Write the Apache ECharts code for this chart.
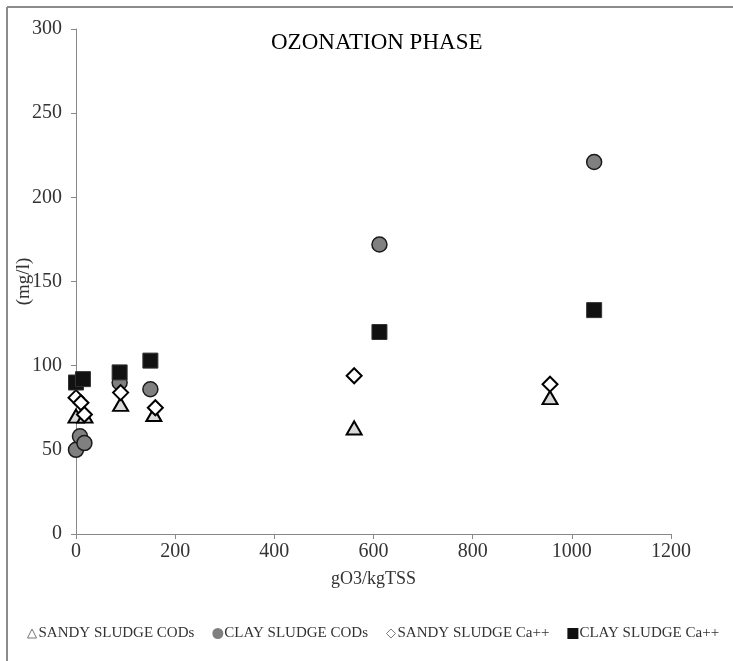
<!DOCTYPE html>
<html>
<head>
<meta charset="utf-8">
<script src="https://cdn.jsdelivr.net/npm/echarts@6/dist/echarts.min.js"></script>
<style>html,body{margin:0;padding:0;background:#fff;}#c{width:733px;height:661px;}</style>
</head>
<body>
<div id="c"></div>
<script>
var seriesNames = ['SANDY SLUDGE CODs', 'CLAY SLUDGE CODs', 'SANDY SLUDGE Ca++', 'CLAY SLUDGE Ca++'];
var sandyCod = [[0, 70], [18, 70], [90, 77], [157, 71], [561, 63], [956, 81]];
var clayCod = [[0, 50], [8, 58], [17, 54], [88, 90], [150, 86], [612, 172], [1045, 221]];
var sandyCa = [[0, 81], [10, 78], [17, 71], [90, 84], [160, 75], [561, 94], [956, 89]];
var clayCa = [[0, 90], [14, 92], [88, 96], [150, 103], [612, 120], [1045, 133]];
var xTicks = [0, 200, 400, 600, 800, 1000, 1200];
var yTicks = [0, 50, 100, 150, 200, 250, 300];

var font = 'Liberation Serif';
var chart = echarts.init(document.getElementById('c'));
chart.setOption({
  backgroundColor: '#fff',
  animation: false,
  title: {
    text: 'OZONATION PHASE', left: 266, top: 26,
    textStyle: { fontFamily: font, fontSize: 23, fontWeight: 'normal', color: '#000' }
  },
  graphic: [
    { type: 'line', shape: { x1: 7, y1: 7, x2: 733, y2: 7 }, style: { stroke: '#8c8c8c', lineWidth: 2 } },
    { type: 'line', shape: { x1: 7, y1: 7, x2: 7, y2: 661 }, style: { stroke: '#8c8c8c', lineWidth: 2 } }
  ],
  legend: {
    bottom: 15, left: 22, itemWidth: 9, itemHeight: 9, itemGap: 18,
    textStyle: { fontFamily: font, fontSize: 15, color: '#333', padding: [0, 0, 0, -3] },
    data: [
      { name: seriesNames[0], icon: 'triangle', itemStyle: { color: '#fff', borderColor: '#777', borderWidth: 1 } },
      { name: seriesNames[1], icon: 'circle', itemStyle: { color: '#7f7f7f', borderColor: '#7f7f7f' } },
      { name: seriesNames[2], icon: 'diamond', itemStyle: { color: '#fff', borderColor: '#777', borderWidth: 1 } },
      { name: seriesNames[3], icon: 'rect', itemStyle: { color: '#111', borderColor: '#111' } }
    ]
  },
  grid: { left: 76, right: 62, top: 29, bottom: 127, outerBoundsMode: 'none', containLabel: false },
  xAxis: {
    type: 'value', min: 0, max: 1200, interval: 200,
    name: 'gO3/kgTSS', nameLocation: 'middle', nameGap: 36, nameMoveOverlap: false,
    nameTextStyle: { fontFamily: font, fontSize: 18, color: '#333' },
    axisLine: { show: true, lineStyle: { color: '#888', width: 1 } },
    axisTick: { show: true, length: 5, lineStyle: { color: '#888' } },
    axisLabel: { fontFamily: font, fontSize: 20, color: '#333', margin: 8,
      formatter: function (v) { return String(v); } },
    splitLine: { show: false }
  },
  yAxis: {
    type: 'value', min: 0, max: 300, interval: 50,
    name: '(mg/l)', nameLocation: 'middle', nameGap: 42, nameMoveOverlap: false,
    nameTextStyle: { fontFamily: font, fontSize: 19, color: '#333' },
    axisLine: { show: true, lineStyle: { color: '#888', width: 1 } },
    axisTick: { show: true, length: 5, lineStyle: { color: '#888' } },
    axisLabel: { fontFamily: font, fontSize: 20, color: '#333', margin: 14,
      formatter: function (v) { return String(v); } },
    splitLine: { show: false }
  },
  series: [
    { name: seriesNames[0], type: 'scatter', data: sandyCod, symbol: 'triangle', symbolSize: [15, 13],
      itemStyle: { color: '#d9d9d9', borderColor: '#000', borderWidth: 2, opacity: 1 } },
    { name: seriesNames[1], type: 'scatter', data: clayCod, symbol: 'circle', symbolSize: 15,
      itemStyle: { color: '#808080', borderColor: '#1a1a1a', borderWidth: 1.5, opacity: 1 } },
    { name: seriesNames[2], type: 'scatter', data: sandyCa, symbol: 'diamond', symbolSize: [15, 15],
      itemStyle: { color: '#fff', borderColor: '#000', borderWidth: 2, opacity: 1 } },
    { name: seriesNames[3], type: 'scatter', data: clayCa, symbol: 'rect', symbolSize: 15,
      itemStyle: { color: '#111', borderColor: '#333', borderWidth: 1, opacity: 1 } }
  ]
});
</script>
</body>
</html>
